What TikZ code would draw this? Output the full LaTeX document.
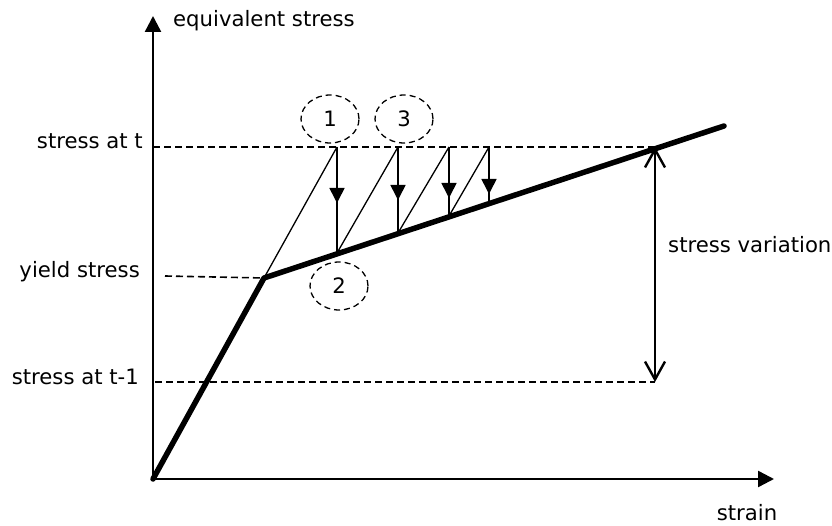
\documentclass[tikz,border=0pt]{standalone}
\usepackage{fontspec}
\setmainfont{DejaVu Sans}
\usetikzlibrary{arrows.meta,shapes.geometric}
\begin{document}
\begin{tikzpicture}[x=1pt,y=-1pt,
  lbl/.style={font=\fontsize{21.2}{25}\selectfont, inner sep=0pt},
  axisline/.style={line width=2.4pt,-{Triangle[length=16pt,width=16pt]}},
  guide/.style={line width=1.6pt,dash pattern=on 7pt off 4pt},
  curve/.style={line width=5.5pt,line cap=round,line join=round},
  elastic/.style={line width=1.3pt},
  drop/.style={line width=1.6pt},
  droptip/.style={line width=1.6pt,-{Triangle[length=15pt,width=15pt]}},
  bubble/.style={ellipse,draw,line width=1.3pt,dash pattern=on 6pt off 4pt,minimum width=58pt,minimum height=48pt,inner sep=0pt,font=\fontsize{21.2}{25}\selectfont},
  span/.style={line width=2.4pt,{Straight Barb[length=18pt,width=20pt]}-{Straight Barb[length=18pt,width=20pt]}}]
\useasboundingbox (0,0) rectangle (832,526);
% key points
\coordinate (O) at (153,479);
\coordinate (ytip) at (153,16);
\coordinate (xtip) at (774,479);
\coordinate (Y) at (264,278);
\coordinate (E) at (724,126);
\coordinate (S) at (655,147);
\coordinate (Sm) at (655,382);
\coordinate (A1) at (337,147);
\coordinate (B1) at (337,253);
\coordinate (T1) at (337,203);
\coordinate (A2) at (398,147);
\coordinate (B2) at (398,233);
\coordinate (T2) at (398,200);
\coordinate (A3) at (449,147);
\coordinate (B3) at (449,216);
\coordinate (T3) at (449,198);
\coordinate (A4) at (489,147);
\coordinate (B4) at (489,203);
\coordinate (T4) at (489,194);
% dashed guides
\coordinate (gtl) at (153,147);
\coordinate (gyl) at (165,276);
\coordinate (gml) at (155,382);
\draw[guide] (gtl) -- (S);
\draw[guide] (gyl) -- (Y);
\draw[guide] (gml) -- (Sm);
% axes
\draw[axisline] (O) -- (ytip);
\draw[axisline] (O) -- (xtip);
% labels
\node[lbl,anchor=base west] (ylab) at (173,27) {equivalent stress};
\node[lbl,anchor=base] (xlab) at (747,520) {strain};
\node[lbl,anchor=mid east] (lt) at (143,146) {stress at t};
\node[lbl,anchor=mid east] (ly) at (140,275) {yield stress};
\node[lbl,anchor=mid east] (lm) at (139,382) {stress at t-1};
\node[lbl,anchor=mid west] (lv) at (668,250) {stress variation};
% stress-strain curve
\draw[curve] (O) -- (Y) -- (E);
% elastic predictor / return steps
\draw[elastic] (Y) -- (A1);
\draw[elastic] (B1) -- (A2);
\draw[elastic] (B2) -- (A3);
\draw[elastic] (B3) -- (A4);
\draw[drop] (A1) -- (B1);
\draw[droptip] (A1) -- (T1);
\draw[drop] (A2) -- (B2);
\draw[droptip] (A2) -- (T2);
\draw[drop] (A3) -- (B3);
\draw[droptip] (A3) -- (T3);
\draw[drop] (A4) -- (B4);
\draw[droptip] (A4) -- (T4);
% bubbles
\node[bubble] (n1) at (330,119) {1};
\node[bubble] (n3) at (404,119) {3};
\node[bubble] (n2) at (339,286) {2};
% stress variation arrow
\draw[span] (S) -- (Sm);
\end{tikzpicture}
\end{document}
